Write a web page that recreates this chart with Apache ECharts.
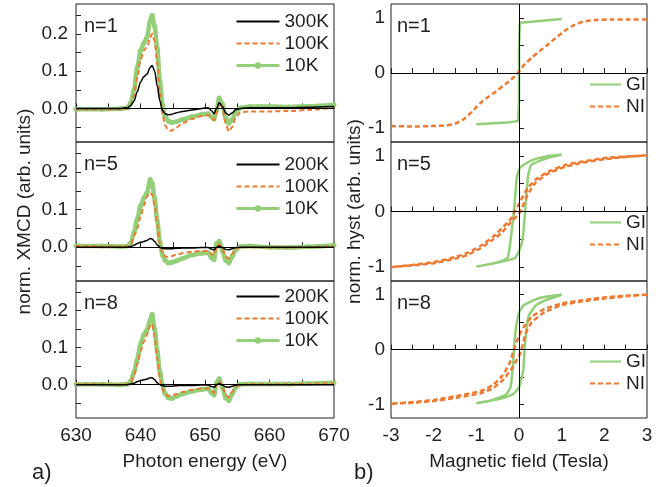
<!DOCTYPE html>
<html>
<head>
<meta charset="utf-8">
<script src="https://cdn.jsdelivr.net/npm/echarts@6/dist/echarts.min.js"></script>
<style>
  html, body { margin: 0; padding: 0; background: #fff; }
  #chart { width: 668px; height: 487px; }
</style>
</head>
<body>
<div id="chart"></div>
<script>
// --- XMCD spectra (left column), common energy grid in eV ---
const energy = [630, 634, 637, 638, 638.5, 639, 639.5, 640, 640.5, 641, 641.5, 641.8, 642.2, 642.6, 643, 643.4, 643.8, 644.3, 644.8, 645.5,
                646.5, 648, 649.5, 650.5, 651, 651.4, 651.8, 652.2, 652.7, 653.2, 653.7, 654.2, 654.8, 655.5, 657, 660, 663, 666, 670];

// n=1
const n1_300K = [0, 0, 0, 0.002, 0.008, 0.02, 0.045, 0.07, 0.085, 0.092, 0.11, 0.115, 0.1, 0.06, 0.02, -0.005, -0.014, -0.017, -0.016, -0.012,
                 -0.008, -0.004, 0, 0.002, -0.006, -0.014, 0, 0.015, 0.005, -0.012, -0.018, -0.012, -0.003, 0, 0.002, 0.002, 0.002, 0.003, 0.005];
const n1_100K = [-0.002, -0.002, -0.002, 0, 0.008, 0.035, 0.085, 0.13, 0.155, 0.165, 0.19, 0.2, 0.18, 0.12, 0.045, -0.015, -0.045, -0.058, -0.06, -0.052,
                 -0.04, -0.028, -0.02, -0.018, -0.026, -0.032, -0.012, 0.018, 0.002, -0.04, -0.062, -0.05, -0.022, -0.01, -0.008, -0.008, -0.007, -0.004, 0.002];
const n1_10K = [-0.002, -0.002, -0.001, 0.002, 0.015, 0.05, 0.11, 0.155, 0.175, 0.19, 0.235, 0.25, 0.22, 0.16, 0.075, 0.01, -0.02, -0.034, -0.038, -0.036,
                -0.03, -0.022, -0.016, -0.014, -0.022, -0.028, -0.005, 0.028, 0.012, -0.025, -0.04, -0.03, -0.008, 0.002, 0.005, 0.005, 0.004, 0.006, 0.01];
// n=5
const n5_200K = [0, 0, 0, 0, 0.002, 0.005, 0.01, 0.013, 0.015, 0.018, 0.023, 0.022, 0.015, 0.006, 0, -0.003, -0.004, -0.004, -0.004, -0.003,
                 -0.002, -0.002, -0.001, -0.001, -0.005, -0.007, 0, 0.003, -0.001, -0.006, -0.007, -0.004, -0.001, 0, 0, 0, 0, 0, 0];
const n5_100K = [0.003, 0.002, 0.002, 0.002, 0.008, 0.03, 0.05, 0.08, 0.11, 0.135, 0.145, 0.14, 0.11, 0.06, 0.01, -0.015, -0.024, -0.026, -0.024, -0.02,
                 -0.016, -0.012, -0.01, -0.01, -0.018, -0.022, 0, 0.008, -0.005, -0.025, -0.03, -0.018, -0.004, 0, 0, -0.001, -0.001, 0, 0.003];
const n5_10K = [0.004, 0.003, 0.002, 0.003, 0.012, 0.04, 0.075, 0.11, 0.13, 0.145, 0.18, 0.17, 0.13, 0.07, 0.015, -0.02, -0.035, -0.042, -0.041, -0.037,
                -0.03, -0.021, -0.016, -0.015, -0.028, -0.033, 0.01, 0.016, -0.01, -0.035, -0.042, -0.025, -0.006, 0.002, 0.003, 0, -0.001, 0.001, 0.005];
// n=8
const n8_200K = [0, 0, 0, 0, 0.002, 0.004, 0.008, 0.011, 0.013, 0.015, 0.019, 0.019, 0.013, 0.005, 0, -0.003, -0.004, -0.004, -0.004, -0.003,
                 -0.002, -0.002, -0.001, -0.001, -0.005, -0.007, 0, 0.003, -0.001, -0.006, -0.007, -0.004, -0.001, 0, 0, 0, 0, 0, 0];
const n8_100K = [0.001, 0.001, 0, 0.001, 0.006, 0.025, 0.055, 0.09, 0.115, 0.135, 0.16, 0.165, 0.13, 0.07, 0.02, -0.012, -0.025, -0.03, -0.03, -0.026,
                 -0.02, -0.014, -0.01, -0.01, -0.018, -0.022, 0.002, 0.01, -0.006, -0.028, -0.034, -0.02, -0.004, 0, 0.001, 0.001, 0.001, 0.002, 0.004];
const n8_10K = [0.001, 0.001, 0, 0.002, 0.01, 0.035, 0.068, 0.11, 0.135, 0.148, 0.175, 0.19, 0.15, 0.09, 0.035, 0, -0.024, -0.035, -0.037, -0.032,
                -0.025, -0.018, -0.013, -0.011, -0.022, -0.028, 0.005, 0.016, -0.008, -0.036, -0.043, -0.026, -0.006, 0.001, 0.002, 0.002, 0.002, 0.003, 0.005];

// --- hysteresis loops (right column), [field (T), norm. moment] ---
const n1_GI = [[-1, -0.93], [-0.6, -0.91], [-0.2, -0.89], [-0.02, -0.87], [0, -0.5], [0, 0.5], [0.02, 0.91], [0.3, 0.93], [0.6, 0.95], [1, 0.98]];
const n1_NI = [[-3, -0.96], [-2.5, -0.97], [-2, -0.96], [-1.7, -0.95], [-1.5, -0.92], [-1.3, -0.84], [-1.1, -0.7], [-0.9, -0.54], [-0.7, -0.42],
               [-0.5, -0.31], [-0.3, -0.19], [-0.1, -0.06], [0, 0.02], [0.1, 0.13], [0.3, 0.28], [0.5, 0.41], [0.7, 0.53], [0.9, 0.66],
               [1.1, 0.78], [1.3, 0.87], [1.5, 0.93], [1.8, 0.96], [2.2, 0.97], [2.6, 0.97], [3, 0.97]];
const n5_GI = [[1, 1.02], [0.7, 1.0], [0.45, 0.96], [0.3, 0.92], [0.15, 0.86], [0.02, 0.78], [-0.05, 0.62], [-0.11, 0.07], [-0.18, -0.41],
               [-0.26, -0.82], [-0.4, -0.89], [-0.7, -0.95], [-1, -0.99],
               [-0.7, -0.95], [-0.4, -0.9], [-0.1, -0.84], [0, -0.72], [0.09, -0.47], [0.15, 0.07], [0.21, 0.62], [0.28, 0.83],
               [0.45, 0.9], [0.7, 0.97], [1, 1.02]];
const n5_NI = [[3, 1.01], [2.5, 0.99], [2, 0.96], [1.5, 0.9], [1.1, 0.84], [0.7, 0.72], [0.4, 0.58], [0.2, 0.42], [0, 0.14], [-0.1, 0],
               [-0.2, -0.14], [-0.4, -0.3], [-0.6, -0.45], [-0.9, -0.62], [-1.2, -0.74], [-1.5, -0.82], [-2, -0.91], [-2.5, -0.96], [-3, -1.0],
               [-2.5, -0.97], [-2, -0.93], [-1.5, -0.85], [-1.2, -0.78], [-0.9, -0.66], [-0.6, -0.5], [-0.4, -0.38], [-0.2, -0.2], [0, -0.04],
               [0.06, 0.04], [0.2, 0.3], [0.4, 0.53], [0.7, 0.69], [1.1, 0.81], [1.5, 0.88], [2, 0.94], [2.5, 0.98], [3, 1.01]];
const n8_GI = [[1, 1.0], [0.7, 0.97], [0.4, 0.92], [0.1, 0.8], [0, 0.67], [-0.08, 0.35], [-0.12, -0.02], [-0.15, -0.38], [-0.2, -0.69],
               [-0.3, -0.82], [-0.44, -0.87], [-0.7, -0.94], [-1, -0.98],
               [-0.7, -0.94], [-0.44, -0.9], [-0.13, -0.81], [0, -0.69], [0.1, -0.38], [0.13, -0.02], [0.17, 0.35], [0.23, 0.62],
               [0.39, 0.8], [0.63, 0.9], [1, 1.0]];
const n8_NI = [[3, 1.0], [2.5, 0.98], [2, 0.95], [1.5, 0.9], [1, 0.84], [0.6, 0.74], [0.3, 0.6], [0.1, 0.4], [0, 0.25], [-0.12, 0],
               [-0.22, -0.25], [-0.38, -0.47], [-0.6, -0.64], [-0.9, -0.76], [-1.4, -0.84], [-2, -0.92], [-2.5, -0.96], [-3, -0.99],
               [-2.5, -0.97], [-2, -0.94], [-1.4, -0.87], [-0.9, -0.8], [-0.6, -0.7], [-0.38, -0.56], [-0.2, -0.38], [0, -0.12],
               [0.06, 0], [0.15, 0.28], [0.3, 0.5], [0.6, 0.68], [1, 0.81], [1.5, 0.88], [2, 0.93], [2.5, 0.97], [3, 1.0]];

// --- ticks and labels ---
const xmcdTicks = [-0.05, 0, 0.05, 0.1, 0.15, 0.2, 0.25];
const xmcdLabels = [0, 0.1, 0.2];
const hystTicks = [-1, -0.5, 0, 0.5, 1];
const hystLabels = [-1, 0, 1];
const panelNames = ['n=1', 'n=5', 'n=8'];
const tempLegends = [['300K', '100K', '10K'], ['200K', '100K', '10K'], ['200K', '100K', '10K']];

const FONT = '"Liberation Sans", Arial, Helvetica, sans-serif';
const INK = '#231f20';
const GREEN = '#93cf78';
const ORANGE = '#ec7a30';

const gridTops = [4, 142, 281];
const gridHeights = [138, 139, 137];

const chart = echarts.init(document.getElementById('chart'), null, { renderer: 'canvas' });

const grids = [];
const xAxes = [];
const yAxes = [];
const tickStyle = { lineStyle: { color: INK, width: 1 } };
const labelStyle = { color: INK, fontSize: 19, fontFamily: FONT };

for (let col = 0; col < 2; col++) {
    for (let i = 0; i < 3; i++) {
        grids.push({
            left: col === 0 ? 76 : 391,
            width: col === 0 ? 258 : 256,
            top: gridTops[i],
            height: gridHeights[i],
            show: true,
            borderColor: INK,
            borderWidth: 1,
            backgroundColor: 'transparent',
            outerBoundsMode: 'none'
        });
        const bottom = i === 2;
        xAxes.push({
            type: 'value',
            gridIndex: col * 3 + i,
            min: col === 0 ? 630 : -3,
            max: col === 0 ? 670 : 3,
            interval: col === 0 ? 10 : 1,
            axisLine: { show: false },
            axisTick: { inside: true, length: 5, ...tickStyle },
            minorTick: { show: true, splitNumber: 2, length: 5, ...tickStyle },
            splitLine: { show: false },
            minorSplitLine: { show: false },
            axisLabel: { show: bottom, margin: 8, ...labelStyle },
            name: bottom ? (col === 0 ? 'Photon energy (eV)' : 'Magnetic field (Tesla)') : '',
            nameLocation: 'middle',
            nameGap: 34,
            nameTextStyle: { ...labelStyle }
        });
        yAxes.push({
            type: 'value',
            gridIndex: col * 3 + i,
            min: col === 0 ? -0.09 : -1.25,
            max: col === 0 ? 0.28 : 1.25,
            axisLine: { show: false },
            axisTick: { inside: true, length: 5, customValues: col === 0 ? xmcdTicks : hystTicks, ...tickStyle },
            splitLine: { show: false },
            axisLabel: {
                margin: col === 0 ? 8 : 6,
                customValues: col === 0 ? xmcdLabels : hystLabels,
                formatter: v => col === 0 ? v.toFixed(1) : String(v),
                ...labelStyle
            },
            name: i === 1 ? (col === 0 ? 'norm. XMCD (arb. units)' : 'norm. hyst (arb. units)') : '',
            nameLocation: 'middle',
            nameGap: col === 0 ? 42 : 19,
            nameTextStyle: { ...labelStyle }
        });
    }
}

const zip = ys => energy.map((e, k) => [e, ys[k]]);
const zeroLine = (withVertical) => ({
    silent: true,
    symbol: 'none',
    label: { show: false },
    lineStyle: { color: '#000', width: 1, type: 'solid' },
    data: withVertical ? [{ yAxis: 0 }, { xAxis: 0 }] : [{ yAxis: 0 }]
});

const xmcdSets = [
    [n1_300K, n1_100K, n1_10K],
    [n5_200K, n5_100K, n5_10K],
    [n8_200K, n8_100K, n8_10K]
];
const hystSets = [[n1_GI, n1_NI], [n5_GI, n5_NI], [n8_GI, n8_NI]];

const series = [];
xmcdSets.forEach((set, i) => {
    const names = tempLegends[i];
    series.push({
        name: names[2], type: 'line', xAxisIndex: i, yAxisIndex: i,
        data: zip(set[2]), smooth: 0.3, smoothMonotone: 'x',
        symbol: 'circle', symbolSize: 5, showSymbol: true,
        itemStyle: { color: GREEN }, lineStyle: { color: GREEN, width: 4.5 },
        markLine: zeroLine(false), z: 2
    });
    series.push({
        name: names[1], type: 'line', xAxisIndex: i, yAxisIndex: i,
        data: zip(set[1]), smooth: 0.3, smoothMonotone: 'x', symbol: 'none',
        itemStyle: { color: ORANGE }, lineStyle: { color: ORANGE, width: 2, type: [5, 3] }, z: 3
    });
    series.push({
        name: names[0], type: 'line', xAxisIndex: i, yAxisIndex: i,
        data: zip(set[0]), smooth: 0.3, smoothMonotone: 'x', symbol: 'none',
        itemStyle: { color: '#000' }, lineStyle: { color: '#000', width: 1.5 }, z: 4
    });
});
hystSets.forEach((set, i) => {
    series.push({
        name: 'GI', type: 'line', xAxisIndex: 3 + i, yAxisIndex: 3 + i,
        data: set[0], smooth: i === 0 ? false : 0.15, symbol: 'none',
        itemStyle: { color: GREEN }, lineStyle: { color: GREEN, width: 2.5 },
        markLine: zeroLine(true), z: 2
    });
    series.push({
        name: 'NI', type: 'line', xAxisIndex: 3 + i, yAxisIndex: 3 + i,
        data: set[1], smooth: 0.15, symbol: 'none',
        itemStyle: { color: ORANGE }, lineStyle: { color: ORANGE, width: 2.5, type: [5, 3] }, z: 3
    });
});

// legend entries: line only, except 10K which keeps its dot
const noDot = { opacity: 0, color: 'rgba(0,0,0,0)', borderWidth: 0 };
const legendItem = n => n === '10K'
    ? { name: n, lineStyle: { width: 3 } }
    : { name: n, itemStyle: noDot };

const legendBase = {
    orient: 'vertical', padding: 0, itemHeight: 8, itemGap: 3,
    textStyle: { color: INK, fontSize: 19, lineHeight: 19, fontFamily: FONT },
    selectedMode: false
};
const legends = [];
const legendTops = [12, 155, 287];
const hystLegendTops = [75, 213, 352];
tempLegends.forEach((names, i) => {
    legends.push({ ...legendBase, left: 235, top: legendTops[i], itemWidth: 43, data: names.map(legendItem) });
});
hystLegendTops.forEach(t => {
    legends.push({ ...legendBase, left: 589, top: t, itemWidth: 31, data: ['GI', 'NI'].map(legendItem) });
});

const titles = [];
panelNames.forEach((n, i) => {
    titles.push({ text: n, left: 84, top: gridTops[i] + 12, padding: 0,
        textStyle: { color: INK, fontSize: 20, fontWeight: 'normal', fontFamily: FONT } });
    titles.push({ text: n, left: 397, top: gridTops[i] + 12, padding: 0,
        textStyle: { color: INK, fontSize: 20, fontWeight: 'normal', fontFamily: FONT } });
});

const option = {
    animation: false,
    backgroundColor: '#fff',
    title: titles,
    legend: legends,
    grid: grids,
    xAxis: xAxes,
    yAxis: yAxes,
    series: series,
    graphic: [
        { type: 'text', left: 32, top: 462, style: { text: 'a)', fill: INK, fontSize: 22, fontFamily: FONT } },
        { type: 'text', left: 354, top: 462, style: { text: 'b)', fill: INK, fontSize: 22, fontFamily: FONT } }
    ]
};
chart.setOption(option);
</script>
</body>
</html>
